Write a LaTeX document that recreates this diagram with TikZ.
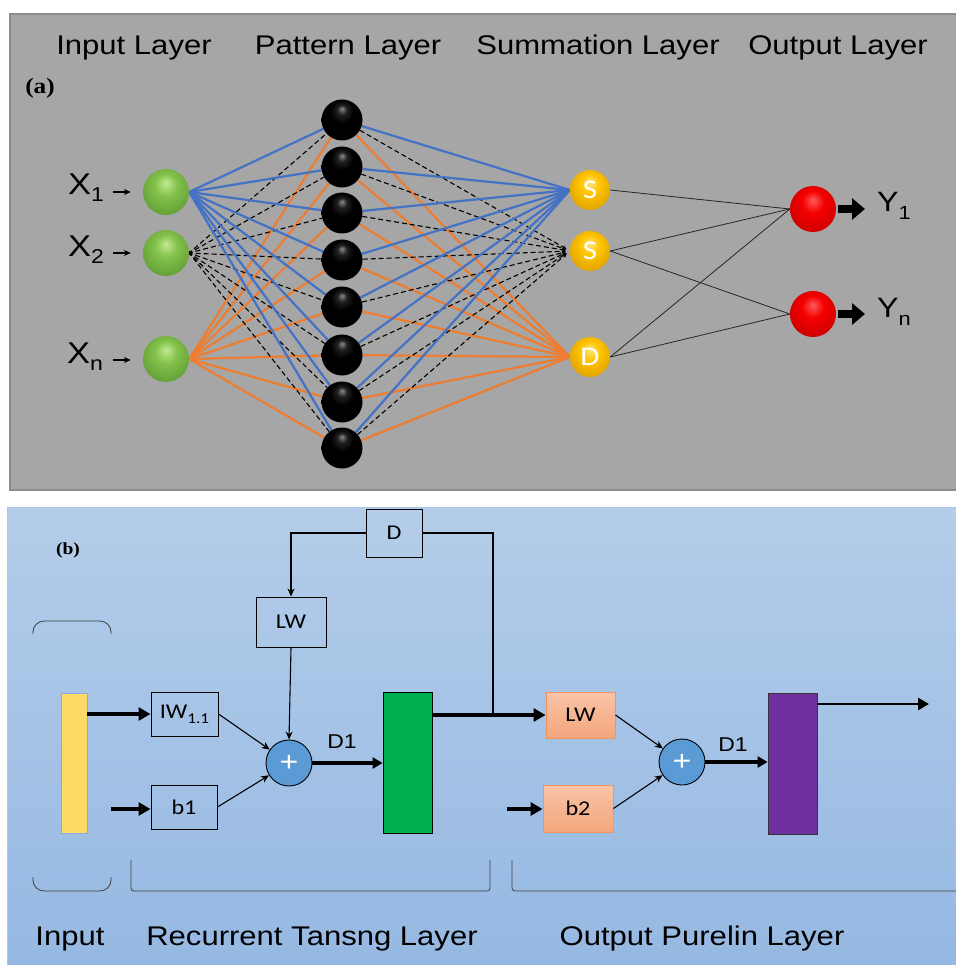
\documentclass[tikz,border=0pt]{standalone}
\usepackage{fontspec}
\setmainfont{Liberation Sans}[FakeStretch=1.15]
\newfontfamily\calfont{Carlito}[FakeStretch=1.15]
\newfontfamily\serfont{Liberation Serif}[FakeStretch=1.15]
\usetikzlibrary{arrows.meta,calc}
\definecolor{panelgray}{HTML}{A6A6A6}
\definecolor{panelborder}{HTML}{8C8C8C}
\definecolor{nnblue}{HTML}{4472C4}
\definecolor{nnorange}{HTML}{ED7D31}
\definecolor{bgtop}{HTML}{B4CDEA}
\definecolor{bgbot}{HTML}{95B8E2}
\definecolor{bgedge}{HTML}{A9C6E8}
\definecolor{gA}{HTML}{C4EA92}
\definecolor{gB}{HTML}{84C24C}
\definecolor{gC}{HTML}{5E9B33}
\definecolor{yA}{HTML}{FFE680}
\definecolor{yB}{HTML}{FFC400}
\definecolor{yC}{HTML}{DDA000}
\definecolor{rA}{HTML}{FF5A5A}
\definecolor{rB}{HTML}{F40000}
\definecolor{rC}{HTML}{C80000}
\definecolor{kA}{HTML}{8A8A8A}
\definecolor{kB}{HTML}{202020}
\definecolor{barYellow}{HTML}{FFD966}
\definecolor{barYedge}{HTML}{8EA9DB}
\definecolor{barGreen}{HTML}{00B050}
\definecolor{barPurple}{HTML}{7030A0}
\definecolor{sumBlue}{HTML}{5B9BD5}
\definecolor{oTop}{HTML}{F8C4A8}
\definecolor{oBot}{HTML}{F4A67C}
\definecolor{oEdge}{HTML}{F0955F}
\pgfdeclareradialshading{greenball}{\pgfpoint{0bp}{10bp}}{color(0bp)=(gA); color(12bp)=(gB); color(32bp)=(gC); color(50bp)=(gC)}
\pgfdeclareradialshading{yellowball}{\pgfpoint{0bp}{10bp}}{color(0bp)=(yA); color(12bp)=(yB); color(32bp)=(yC); color(50bp)=(yC)}
\pgfdeclareradialshading{redball}{\pgfpoint{0bp}{10bp}}{color(0bp)=(rA); color(12bp)=(rB); color(32bp)=(rC); color(50bp)=(rC)}
\pgfdeclareradialshading{blackball}{\pgfpoint{0bp}{14bp}}{color(0bp)=(kA); color(6bp)=(kB); color(14bp)=(black); color(50bp)=(black)}
\pgfdeclarelayer{back}
\pgfdeclarelayer{edges}
\pgfsetlayers{back,edges,main}
\newcommand{\ttlfont}{\fontsize{27}{30}\selectfont}
\begin{document}
\begin{tikzpicture}[x=1pt,y=-1pt,
  ttl/.style={inner sep=0pt,anchor=base,font=\ttlfont},
  inball/.style={circle,minimum size=46pt,inner sep=0pt,shading=greenball},
  patball/.style={circle,minimum size=41pt,inner sep=0pt,shading=blackball},
  sumball/.style={circle,minimum size=40pt,inner sep=0pt,shading=yellowball,text=white,font=\calfont\fontsize{27}{27}\selectfont},
  outball/.style={circle,minimum size=46pt,inner sep=0pt,shading=redball},
  lbl/.style={inner sep=0pt,anchor=base west},
  blueedge/.style={draw=nnblue,line width=2.2pt},
  orangeedge/.style={draw=nnorange,line width=2.2pt},
  dashedge/.style={draw=black,line width=1.1pt,dash pattern=on 5pt off 3pt},
  thinedge/.style={draw=black!85,line width=0.8pt},
  smallarr/.style={draw=black,line width=1.2pt,-{Stealth[length=7pt,width=6pt]}},
  blockarr/.style={draw=black,line width=8pt,-{Triangle[length=13pt,width=21pt]}},
  box/.style={draw=black,line width=1pt,inner sep=0pt,font=\calfont\fontsize{21}{23}\selectfont},
  obox/.style={draw=oEdge,line width=0.9pt,inner sep=0pt,top color=oTop,bottom color=oBot,font=\calfont\fontsize{21}{23}\selectfont},
  sumc/.style={circle,draw=black,line width=0.9pt,fill=sumBlue,minimum size=46pt,inner sep=0pt,text=white,font=\fontsize{28}{28}\selectfont},
  thinarr/.style={draw=black,line width=1.1pt,-{Stealth[length=8pt,width=7pt]}},
  thinline/.style={draw=black,line width=1.1pt},
  thickarr/.style={draw=black,line width=4.5pt,-{Triangle[length=12pt,width=13pt]}},
  medarr/.style={draw=black,line width=3.5pt,-{Triangle[length=10pt,width=11pt]}},
  outarr/.style={draw=black,line width=2.8pt,-{Triangle[length=11pt,width=12pt]}},
  brk/.style={draw=black!75,line width=0.8pt},
  btxt/.style={inner sep=0pt,anchor=base,font=\ttlfont},
  d1txt/.style={inner sep=0pt,anchor=base,font=\fontsize{20}{22}\selectfont}
]
\useasboundingbox (0,0) rectangle (955,965);
\begin{pgfonlayer}{back}
  \fill[white] (0,0) rectangle (955,965);
  \draw[fill=panelgray,draw=panelborder,line width=1.5pt] (10,14) rectangle (960,490);
  \draw[draw=bgedge,line width=1pt,top color=bgtop,bottom color=bgbot] (7,507) rectangle (960,970);
\end{pgfonlayer}

% ---------- panel (a) ----------
\node[ttl] (t1) at (134,55) {Input Layer};
\node[ttl] (t2) at (348,55) {Pattern Layer};
\node[ttl] (t3) at (598,55) {Summation Layer};
\node[ttl] (t4) at (838,55) {Output Layer};
\node[inner sep=0pt,font=\serfont\bfseries\fontsize{22}{22}\selectfont] (la) at (40,88) {(a)};

\node[inball] (i1) at (166,192) {};
\node[inball] (i2) at (166,253) {};
\node[inball] (in) at (166,359) {};

\foreach \i/\yy in {1/120,2/167,3/213,4/260,5/307,6/355,7/402,8/448}
  \node[patball] (p\i) at (342,\yy) {};

\node[sumball] (s1) at (590,190) {S};
\node[sumball] (s2) at (590,251) {S};
\node[sumball] (sd) at (590,357) {D};

\node[outball] (y1) at (813,209) {};
\node[outball] (yn) at (813,314) {};

\node[lbl,font=\fontsize{30}{30}\selectfont] (xl1) at (68,195) {X\raisebox{-7pt}{\fontsize{20}{20}\selectfont 1}};
\node[lbl,font=\fontsize{30}{30}\selectfont] (xl2) at (68,257) {X\raisebox{-7pt}{\fontsize{20}{20}\selectfont 2}};
\node[lbl,font=\fontsize{30}{30}\selectfont] (xln) at (67,363) {X\raisebox{-7pt}{\fontsize{20}{20}\selectfont n}};

\node[lbl,font=\fontsize{28}{28}\selectfont] (yl1) at (877,212) {Y\raisebox{-8pt}{\fontsize{19}{19}\selectfont 1}};
\node[lbl,font=\fontsize{28}{28}\selectfont] (yln) at (877,317) {Y\raisebox{-8pt}{\fontsize{19}{19}\selectfont n}};

\draw[smallarr] ($(xl1.west |- i1.west)+(45,0)$) -- ($(i1.west)+(-12,0)$);
\draw[smallarr] ($(xl2.west |- i2.west)+(45,0)$) -- ($(i2.west)+(-12,0)$);
\draw[smallarr] ($(xln.west |- in.west)+(46,1)$) -- ($(in.west)+(-12,1)$);

\draw[blockarr] ($(y1.east)+(2,0)$) -- ($(yl1.west |- y1.east)+(-12,0)$);
\draw[blockarr] ($(yn.east)+(2,0)$) -- ($(yln.west |- yn.east)+(-12,0)$);

\begin{pgfonlayer}{edges}
\foreach \i in {1,...,8} {
  \draw[orangeedge] (in.east) -- (p\i);
  \draw[blueedge] (i1.east) -- (p\i);
  \draw[dashedge,{Stealth[length=4pt,width=4pt]}-,shorten <=-4pt] (i2.east) -- (p\i);
  \draw[orangeedge] (p\i) -- (sd.west);
  \draw[blueedge] (p\i) -- (s1.west);
  \draw[dashedge,-{Stealth[length=4pt,width=4pt]},shorten >=4pt] (p\i) -- (s2.west);
}
\draw[thinedge] (s1.east) -- (y1.west);
\draw[thinedge] (s2.east) -- (y1.west);
\draw[thinedge] (sd.east) -- (y1.west);
\draw[thinedge] (s2.east) -- (yn.west);
\draw[thinedge] (sd.east) -- (yn.west);
\end{pgfonlayer}

% ---------- panel (b) ----------
\node[inner sep=0pt,font=\serfont\bfseries\fontsize{17}{17}\selectfont] (lb) at (68,550) {(b)};

\node[draw=barYedge,line width=0.8pt,fill=barYellow,minimum width=26pt,minimum height=140pt,inner sep=0pt] (inbar) at (74,763) {};
\node[box,minimum width=67pt,minimum height=44pt] (iw) at (184.5,714) {IW\raisebox{-5pt}{\fontsize{15}{15}\selectfont 1.1}};
\node[box,minimum width=66pt,minimum height=44pt] (b1) at (184,807) {b1};
\node[sumc] (sum1) at (289,763) {+};
\node[draw=black,line width=0.8pt,fill=barGreen,minimum width=49pt,minimum height=141pt,inner sep=0pt] (gbar) at (407.5,762.5) {};
\node[box,minimum width=70pt,minimum height=50pt] (lwt) at (291,622) {LW};
\node[box,minimum width=56pt,minimum height=48pt] (dbox) at (394,533) {D};
\node[obox,minimum width=69pt,minimum height=46pt] (lwo) at (580.5,715) {LW};
\node[obox,minimum width=70pt,minimum height=47pt] (b2) at (578,808.5) {b2};
\node[sumc] (sum2) at (682,762) {+};
\node[draw=black!80,line width=0.8pt,fill=barPurple,minimum width=49pt,minimum height=141pt,inner sep=0pt] (pbar) at (792.5,763.5) {};

\node[d1txt] (d1a) at (342,748) {D1};
\node[d1txt] (d1b) at (733,751) {D1};

\coordinate (b1in) at (111,809);
\coordinate (b2in) at (507,809);
\coordinate (junc) at (493,714);
\coordinate (outend) at (929,704);

\draw[thickarr] (inbar.east |- iw.west) -- (iw.west);
\draw[thickarr] (b1in) -- (b1.west |- b1in);
\draw[thinarr] (iw.east) -- (sum1);
\draw[thinarr] (b1.east) -- (sum1);
\draw[thinarr] (lwt.south) -- (sum1.north);
\draw[thinarr] (dbox.west) -| (lwt.north);
\draw[thinline] (dbox.east) -| (junc);
\draw[medarr] (sum1.east) -- (gbar.west |- sum1.east);
\draw[thickarr] (gbar.east |- lwo.west) -- (lwo.west);
\draw[thinarr] (lwo.east) -- (sum2);
\draw[thinarr] (b2.east) -- (sum2);
\draw[thickarr] (b2in) -- (b2.west |- b2in);
\draw[medarr] (sum2.east) -- (pbar.west |- sum2.east);
\draw[outarr] (pbar.east |- outend) -- (outend);

% brackets
\draw[brk,rounded corners=11pt] (33,634) -- (33,621) -- (111,621) -- (111,634);
\draw[brk,rounded corners=11pt] (33,877) -- (33,891) -- (111,891) -- (111,877);
\draw[brk,rounded corners=3pt] (131,860) -- (131,891) -- (490,891) -- (490,860);
\draw[brk,rounded corners=3pt] (512,860) -- (512,891) -- (960,891);

\node[btxt] (bt1) at (70,945) {Input};
\node[btxt] (bt2) at (312,945) {Recurrent Tansng Layer};
\node[btxt] (bt3) at (702,945) {Output Purelin Layer};
\end{tikzpicture}
\end{document}
